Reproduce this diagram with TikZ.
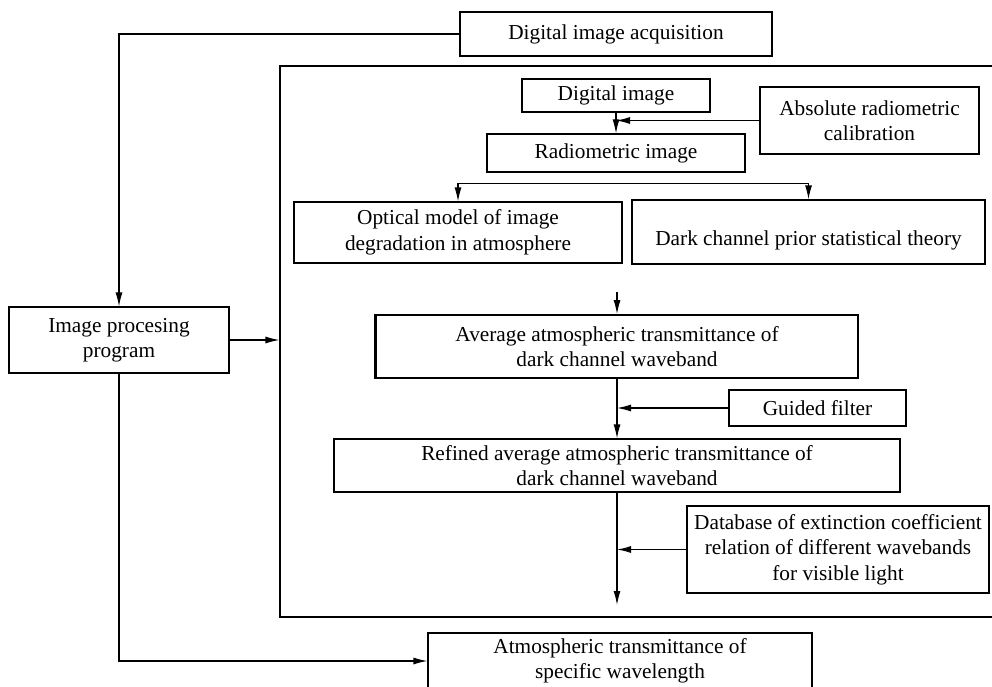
\documentclass[tikz,border=0pt]{standalone}
\usepackage{fontspec}
\setmainfont{Liberation Serif}
\usetikzlibrary{arrows.meta}

\tikzset{
    box/.style={draw, line width=1.2pt, inner sep=2pt, align=center,
        font=\fontsize{21.3}{25.5}\selectfont},
    arr/.style={line width=1.2pt, -{Latex[length=14pt, width=7pt]}}
}

\begin{document}
\begin{tikzpicture}[x=1pt, y=-1pt]
    \useasboundingbox (0,0) rectangle (992,687);

    % 1. Outer program frame (its right side runs off the page)
    \node[draw, line width=1.2pt, minimum width=720pt, minimum height=551pt] (frame) at (640,341.5) {};

    % 2. Boxes outside the frame
    \node[box, minimum width=312pt, minimum height=44pt] (acq) at (616,34) {Digital image acquisition};
    \node[box, minimum width=220pt, minimum height=66pt] (proc) at (119,340) {Image procesing\\program};
    \node[box, minimum width=384pt, minimum height=56pt] (atmo) at (620,661) {Atmospheric transmittance of\\specific wavelength};

    % 3. Boxes inside the frame
    \node[box, minimum width=188pt, minimum height=33pt] (dimg) at (616,95.5) {Digital image};
    \node[box, minimum width=219pt, minimum height=67pt] (cal) at (869.5,120.5) {Absolute radiometric\\calibration};
    \node[box, minimum width=258pt, minimum height=38pt] (rimg) at (616,153) {Radiometric image};
    \node[box, minimum width=328pt, minimum height=61pt] (optic) at (458,232.5) {Optical model of image\\degradation in atmosphere};
    \node[box, minimum width=353pt, minimum height=64pt] (dark) at (808.5,232) {\raisebox{-13pt}[0pt][0pt]{Dark channel prior statistical theory}};
    \node[box, line width=1.8pt, minimum width=482pt, minimum height=63pt] (avg) at (617,346.5) {Average atmospheric transmittance of\\dark channel waveband};
    \draw[line width=3pt] (avg.north west) -- (avg.south west);
    \node[box, minimum width=177pt, minimum height=36pt] (guide) at (817.5,408) {Guided filter};
    \node[box, minimum width=566pt, minimum height=53pt] (refined) at (617,465.5) {Refined average atmospheric transmittance of\\dark channel waveband};
    \node[box, minimum width=302pt, minimum height=87pt] (dbase) at (838,549.5) {Database of extinction coefficient\\relation of different wavebands\\for visible light};
    \coordinate (tail) at (617,605);

    % 4. Connectors
    \draw[arr] (acq.west) -| (proc.north);
    \draw[arr] (proc.east) -- (proc.east -| frame.west);
    \draw[arr] (proc.south) |- (atmo.west);
    \draw[arr] (dimg.south) -- (dimg.south |- rimg.north);
    \draw[arr] (cal.west) -- (cal.west -| dimg.south);
    \draw[arr] ([yshift=18pt]optic.north) -- (optic.north);
    \draw[arr] ([yshift=18pt]optic.north) -| (dark.north);
    \draw[arr] ([yshift=22pt]avg.north) -- (avg.north);
    \draw[arr] (avg.south) -- (avg.south |- refined.north);
    \draw[arr] (guide.west) -- (guide.west -| avg.south);
    \draw[arr] (refined.south) -- (tail);
    \draw[arr] (dbase.west) -- (dbase.west -| tail);

\end{tikzpicture}
\end{document}
